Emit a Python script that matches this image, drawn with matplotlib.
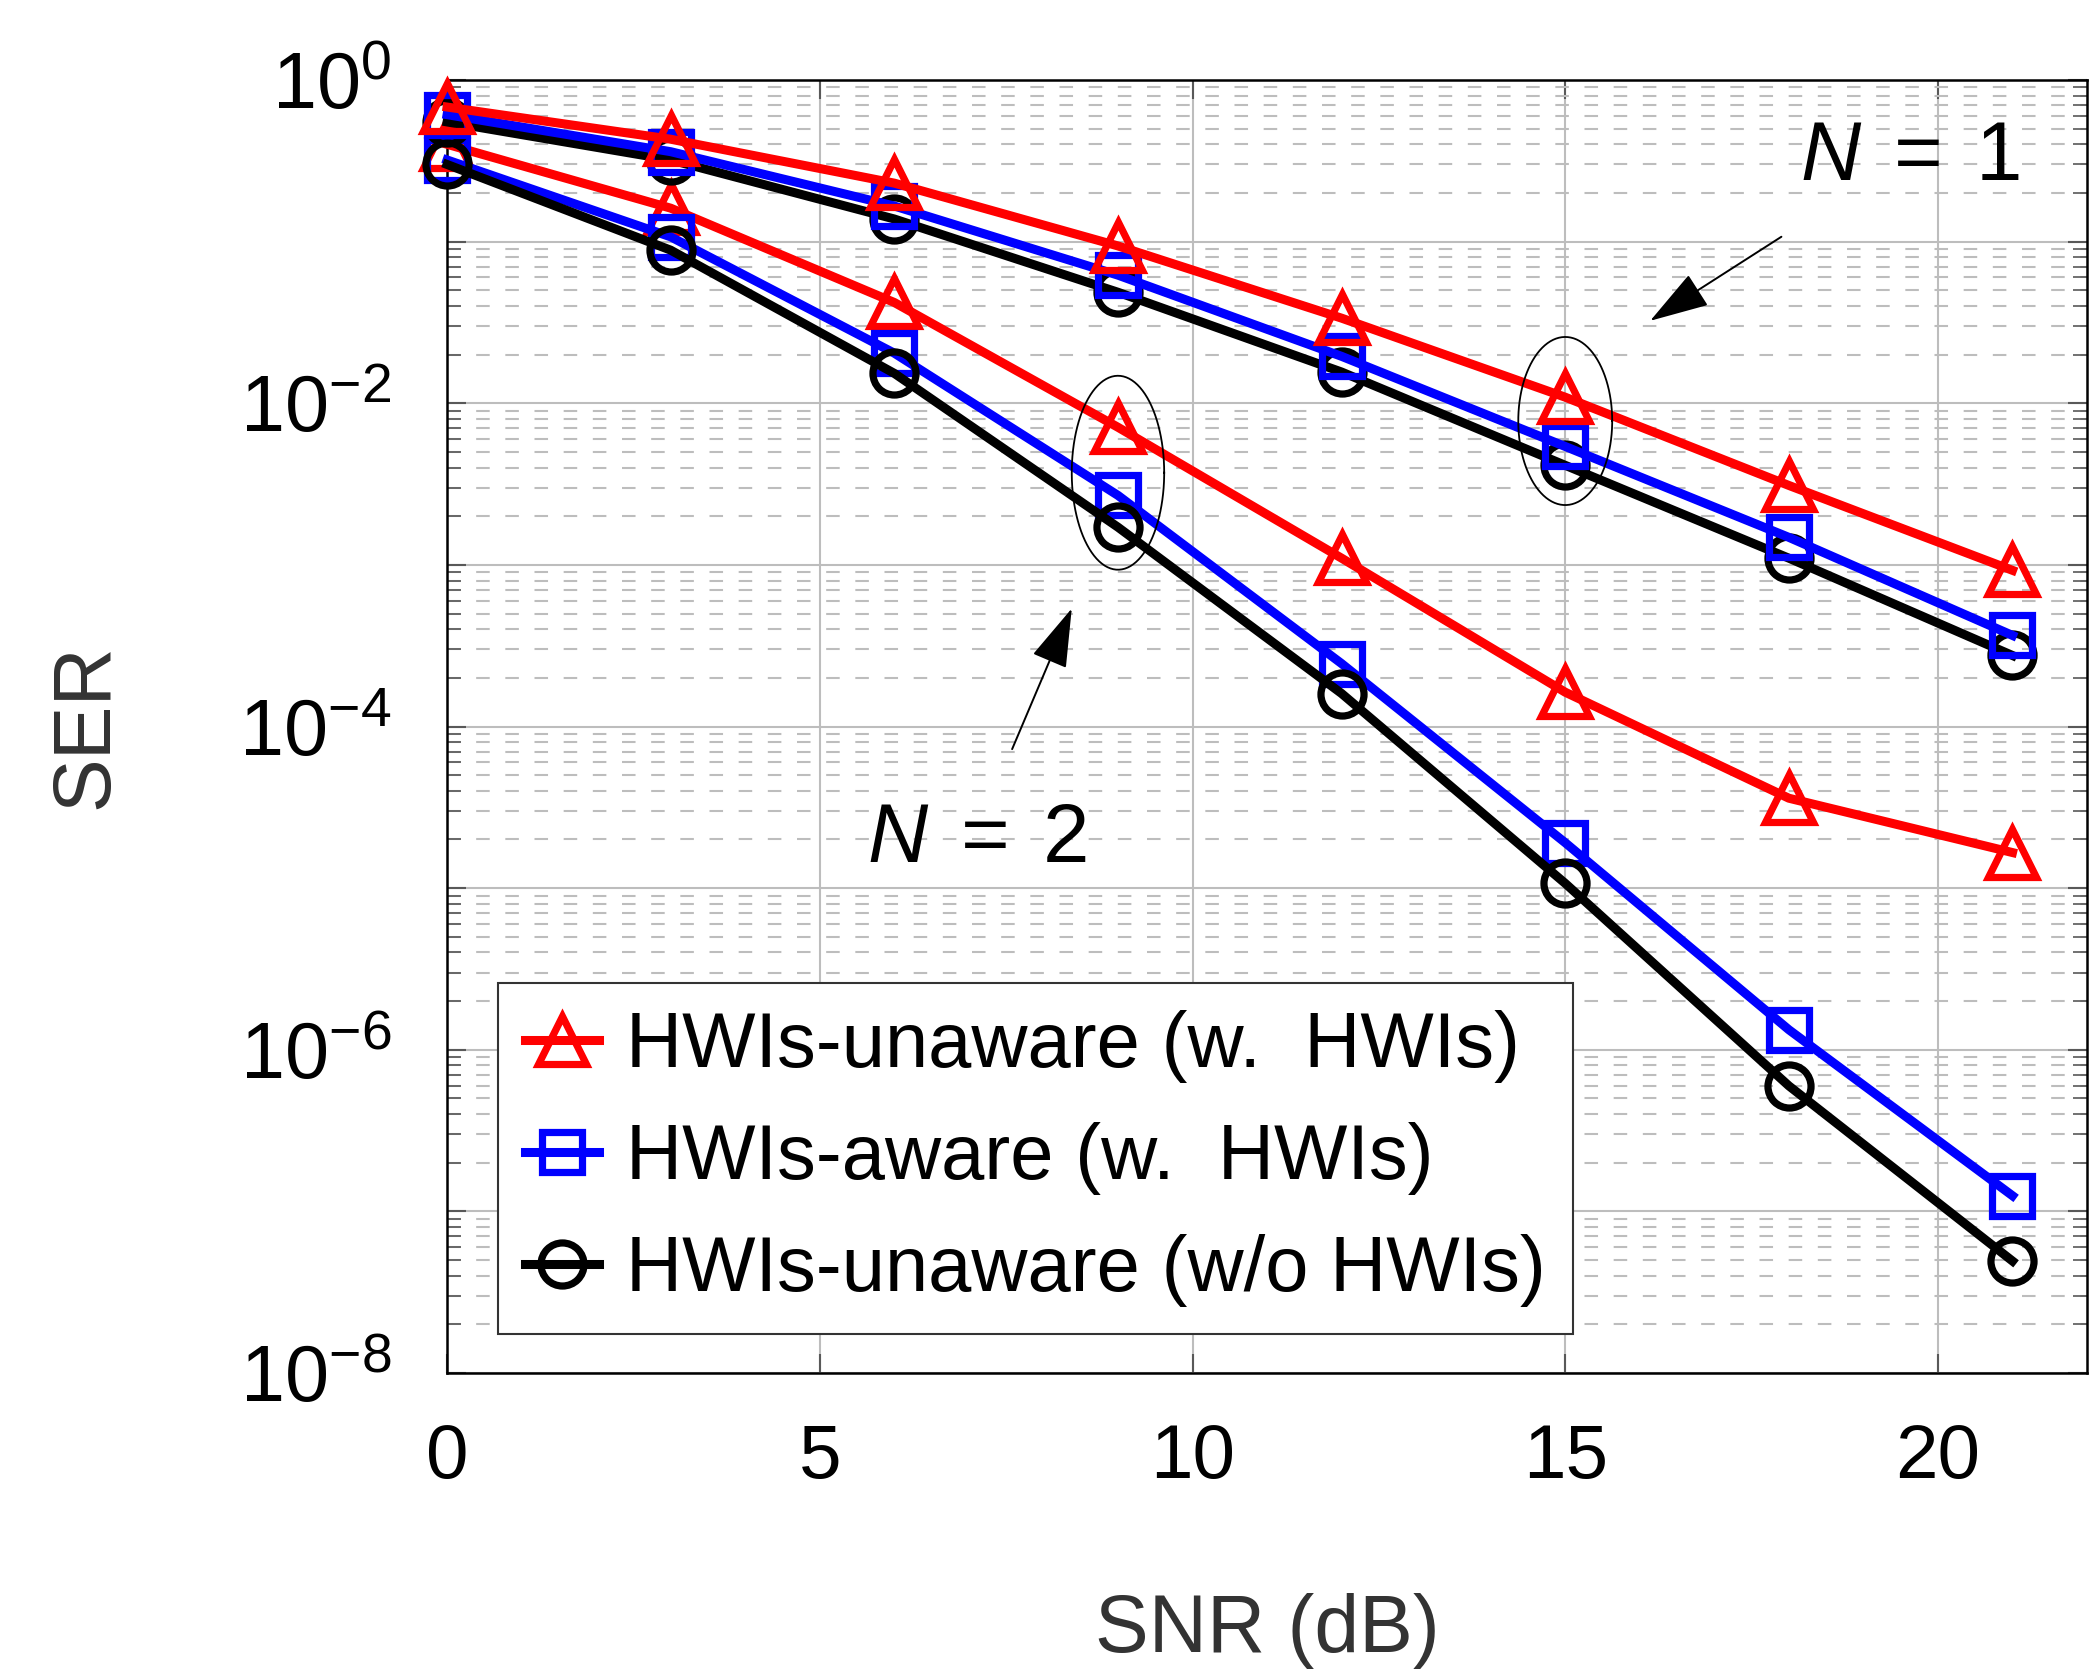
import numpy as np
import matplotlib.pyplot as plt
from matplotlib.ticker import FixedLocator, LogLocator, NullFormatter, FuncFormatter

plt.rcParams["font.family"] = ["Liberation Sans", "DejaVu Sans"]
plt.rcParams["mathtext.fontset"] = "custom"
plt.rcParams["mathtext.rm"] = "Liberation Sans"
plt.rcParams["mathtext.it"] = "Liberation Sans:italic"
plt.rcParams["mathtext.sf"] = "Liberation Sans"

# SER vs SNR, N = 1 and N = 2 receive antennas
snr_db = [0, 3, 6, 9, 12, 15, 18, 21]

unaware_hwi_n1 = [0.68, 0.43, 0.23, 0.094, 0.0336, 0.0109, 3.1e-3, 9.25e-4]
aware_hwi_n1 = [0.61, 0.36, 0.166, 0.062, 0.0195, 5.4e-3, 1.48e-3, 3.66e-4]
unaware_nohwi_n1 = [0.55, 0.32, 0.138, 0.0486, 0.0156, 4.13e-3, 1.10e-3, 2.75e-4]

unaware_hwi_n2 = [0.40, 0.161, 0.042, 7.1e-3, 1.10e-3, 1.63e-4, 3.6e-5, 1.66e-5]
aware_hwi_n2 = [0.32, 0.107, 0.0204, 2.69e-3, 2.45e-4, 1.91e-5, 1.33e-6, 1.25e-7]
unaware_nohwi_n2 = [0.30, 0.0885, 0.0153, 1.71e-3, 1.60e-4, 1.07e-5, 5.98e-7, 4.93e-8]

labels = ["HWIs-unaware (w.  HWIs)", "HWIs-aware (w.  HWIs)", "HWIs-unaware (w/o HWIs)"]
colors = ["#ff0000", "#0000ff", "#000000"]
markers = ["^", "s", "o"]
msizes = [34, 29, 31]

fig = plt.figure(figsize=(20.99, 16.73), dpi=100)
ax = fig.add_axes([0.213, 0.1793, 0.7813, 0.7729])
ax.set_yscale("log")

style = dict(lw=6.5, mew=5.2, mfc="none", clip_on=False)
n2 = [unaware_hwi_n2, aware_hwi_n2, unaware_nohwi_n2]
n1 = [unaware_hwi_n1, aware_hwi_n1, unaware_nohwi_n1]

for i in range(3):
    ax.plot(snr_db, n2[i], color=colors[i], marker=markers[i], ms=msizes[i],
            zorder=3 + i, **style)
handles = [None] * 3
for i in [2, 1, 0]:
    (handles[i],) = ax.plot(snr_db, n1[i], color=colors[i], marker=markers[i],
                            ms=msizes[i], zorder=8 - i, **style)

ax.set_xlim(0, 22)
ax.set_ylim(1e-8, 1)

ax.xaxis.set_major_locator(FixedLocator([0, 5, 10, 15, 20]))
ax.yaxis.set_major_locator(FixedLocator([10.0 ** e for e in range(-8, 1)]))
ax.yaxis.set_minor_locator(LogLocator(base=10, subs=np.arange(2, 10), numticks=20))
ax.yaxis.set_minor_formatter(NullFormatter())


def fmt_decade(v, pos):
    e = int(round(np.log10(v)))
    return rf"$10^{{{e}}}$" if e % 2 == 0 else ""


ax.yaxis.set_major_formatter(FuncFormatter(fmt_decade))

ax.grid(which="major", color="#bdbdbd", lw=1.5, ls="-")
ax.grid(which="minor", axis="y", color="#bdbdbd", lw=1.5, ls=(0, (6.5, 7.5)))
ax.set_axisbelow(True)

ax.tick_params(which="both", direction="in", top=True, right=True,
               color="0.35", labelsize=55)
ax.tick_params(axis="y", labelsize=57)
ax.tick_params(which="major", length=14, width=1.5)
ax.tick_params(which="minor", length=10, width=1.2)
ax.tick_params(axis="y", pad=40)
ax.tick_params(axis="x", pad=36)
for sp in ax.spines.values():
    sp.set_linewidth(1.8)

ax.set_xlabel("SNR (dB)", fontsize=58, color="0.2")
ax.set_ylabel("SER", fontsize=58, color="0.2")
ax.xaxis.set_label_coords(0.5, -0.17)
ax.yaxis.set_label_coords(-0.197, 0.5)

# ellipses grouping the curves of each antenna setup
t = np.linspace(0, 2 * np.pi, 200)
for xc, yc, rx, ry in [(9, -2.43, 0.62, 0.60), (15, -2.11, 0.63, 0.52)]:
    ax.plot(xc + rx * np.cos(t), 10 ** (yc + ry * np.sin(t)),
            color="k", lw=1.3, zorder=10)

arrow = dict(arrowstyle="-|>,head_length=0.9,head_width=0.28", color="k",
             lw=1.4, mutation_scale=42, shrinkA=0, shrinkB=0)
ax.annotate("", xy=(16.14, 10 ** -1.49), xytext=(17.9, 10 ** -0.97),
            arrowprops=arrow, zorder=10)
ax.annotate("", xy=(8.38, 10 ** -3.27), xytext=(7.58, 10 ** -4.14),
            arrowprops=arrow, zorder=10)
ax.text(19.62, 10 ** -0.48, r"$N\;=\;1$", fontsize=60, ha="center", va="center")
ax.text(7.11, 10 ** -4.70, r"$N\;=\;2$", fontsize=60, ha="center", va="center")

leg = ax.legend(handles, labels, loc="lower left", bbox_to_anchor=(0.031, 0.030),
                fontsize=56, handlelength=0.95, handletextpad=0.35, borderpad=0.35,
                labelspacing=0.5, borderaxespad=0, numpoints=1,
                fancybox=False, framealpha=1, edgecolor="0.2")
leg.get_frame().set_linewidth(1.5)
leg.set_zorder(20)

fig.savefig("out.png", dpi=100)
